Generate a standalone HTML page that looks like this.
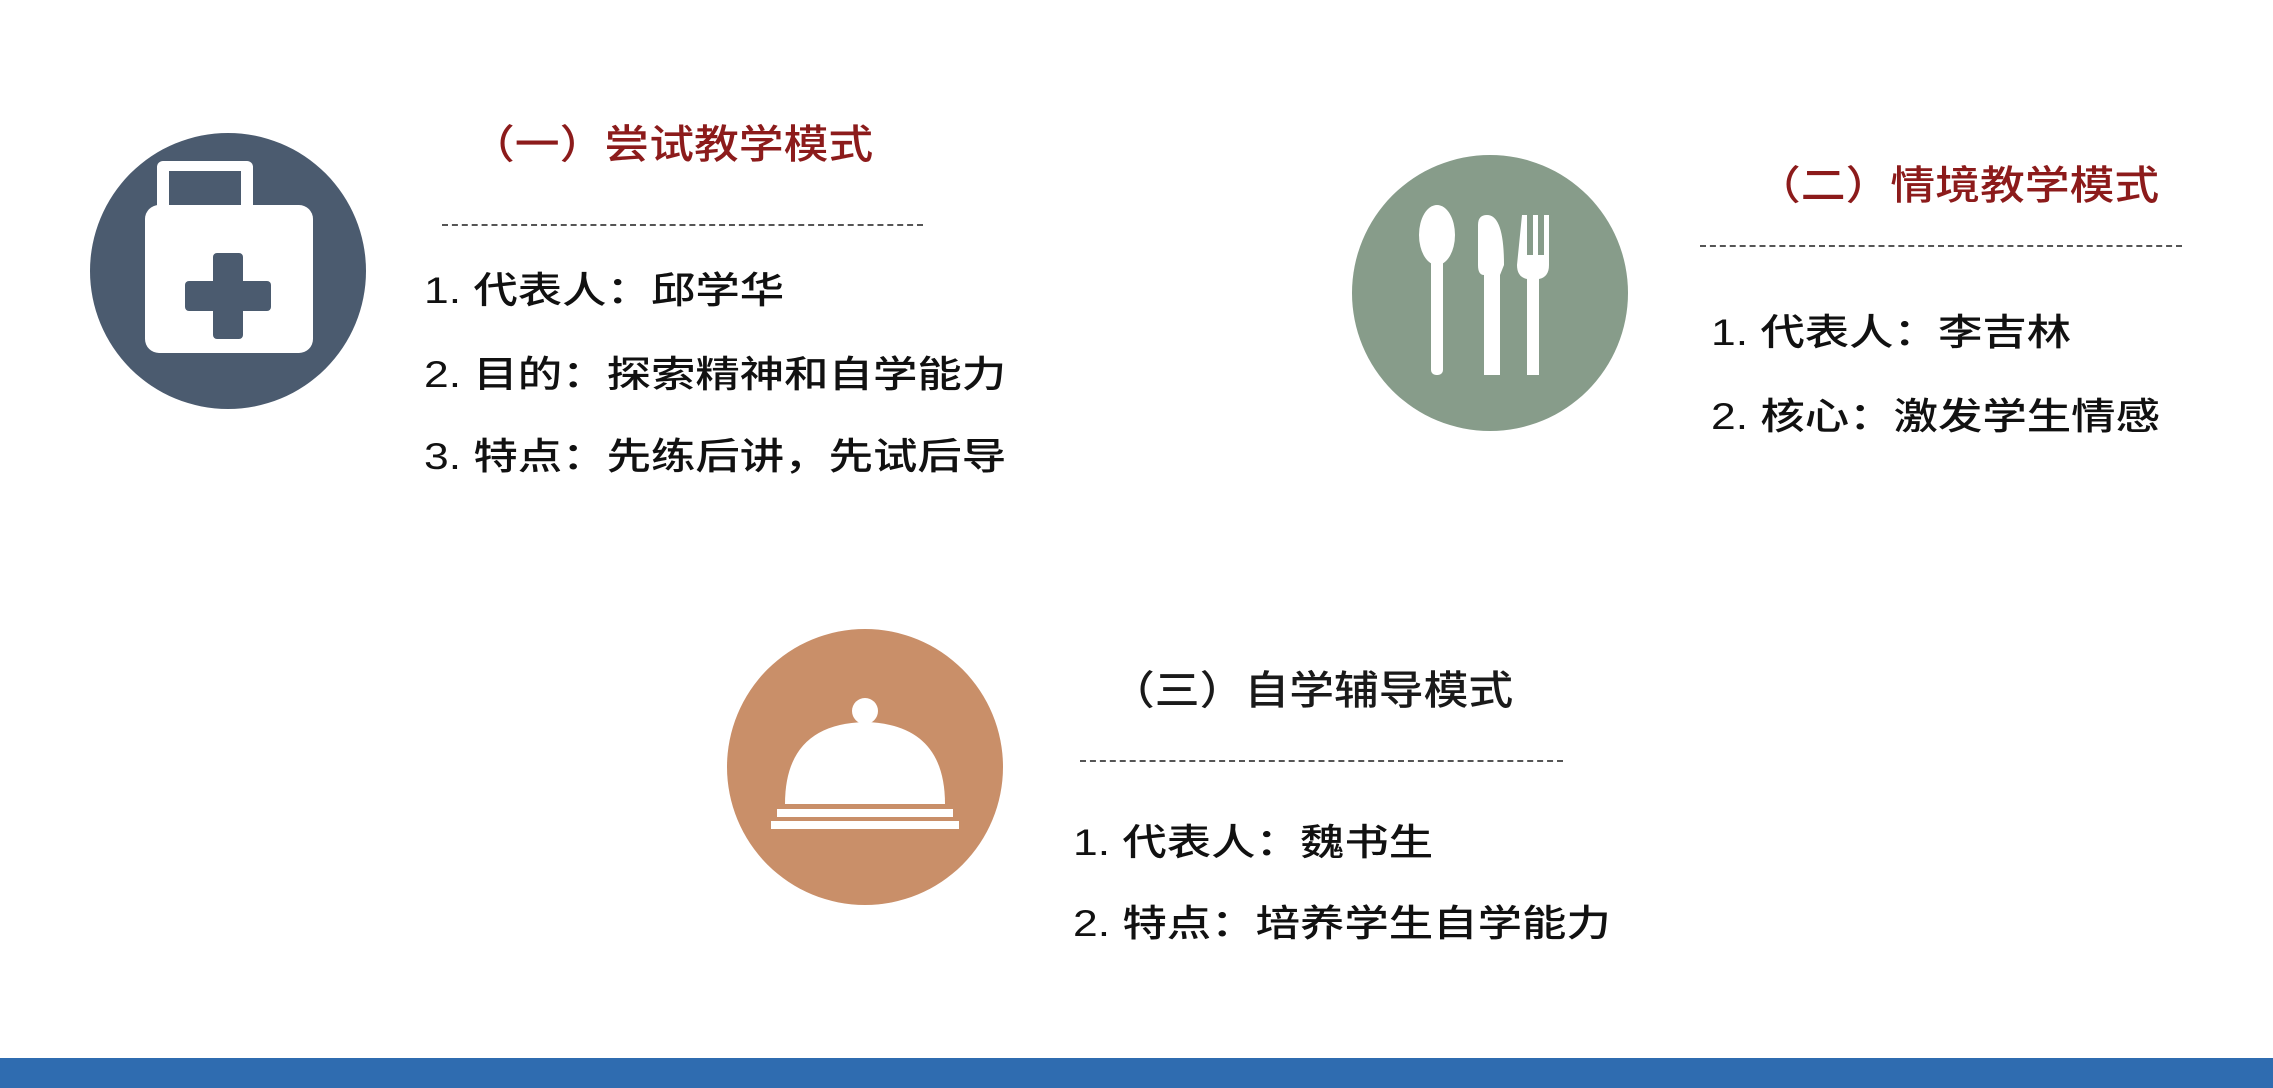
<!DOCTYPE html>
<html><head><meta charset="utf-8"><style>
html,body{margin:0;padding:0}
body{width:2273px;height:1088px;position:relative;background:#fff;overflow:hidden;font-family:"Liberation Sans","Noto Sans CJK SC",sans-serif}
.t{position:absolute;white-space:nowrap;transform-origin:0 50%;line-height:1}
.title{font-size:40px;color:#8c1b1b;transform:scaleX(1.12);font-weight:500}
.body{font-size:37px;color:#111;transform:scaleX(1.2);font-weight:500}
.dash{position:absolute;border-top:2px dashed #555;height:0}
</style></head><body>
<svg style="position:absolute;left:90px;top:133px" width="276" height="276" viewBox="0 0 276 276">
<circle cx="138" cy="138" r="138" fill="#4b5b6f"/>
<rect x="67" y="28" width="96" height="50" rx="6" fill="#fff"/>
<rect x="79" y="38" width="72" height="40" fill="#4b5b6f"/>
<rect x="55" y="72" width="168" height="148" rx="14" fill="#fff"/>
<rect x="123" y="120" width="30" height="86" rx="4" fill="#4b5b6f"/>
<rect x="95" y="148" width="86" height="30" rx="4" fill="#4b5b6f"/>
</svg>
<svg style="position:absolute;left:1352px;top:155px" width="276" height="276" viewBox="0 0 276 276">
<circle cx="138" cy="138" r="138" fill="#879c8a"/>
<ellipse cx="85" cy="80" rx="18" ry="30" fill="#fff"/>
<rect x="79" y="100" width="12" height="120" rx="5" fill="#fff"/>
<path d="M135 60 Q152 60 152 110 L148 120 L148 220 L132 220 L132 120 Q126 120 126 110 L126 70 Q126 60 135 60Z" fill="#fff"/>
<path d="M170 60 h5 v40 h6 v-40 h5 v40 h6 v-40 h5 v50 q0 12 -10 14 v96 h-12 v-96 q-10 -2 -10 -14Z" fill="#fff"/>
</svg>
<svg style="position:absolute;left:727px;top:629px" width="276" height="276" viewBox="0 0 276 276">
<circle cx="138" cy="138" r="138" fill="#c98f69"/>
<circle cx="138" cy="82" r="13" fill="#fff"/>
<path d="M58 175 Q58 95 138 93 Q218 95 218 175Z" fill="#fff"/>
<rect x="50" y="180" width="176" height="8" fill="#fff"/>
<rect x="44" y="192" width="188" height="8" fill="#fff"/>
</svg>

<div class="t title" style="left:470px;top:125px">（一）尝试教学模式</div>
<div class="dash" style="left:442px;top:224px;width:481px"></div>
<div class="t body" style="left:424px;top:272px">1. 代表人：邱学华</div>
<div class="t body" style="left:424px;top:356px">2. 目的：探索精神和自学能力</div>
<div class="t body" style="left:424px;top:438px">3. 特点：先练后讲，先试后导</div>

<div class="t title" style="left:1756px;top:166px">（二）情境教学模式</div>
<div class="dash" style="left:1700px;top:245px;width:482px"></div>
<div class="t body" style="left:1711px;top:314px">1. 代表人：李吉林</div>
<div class="t body" style="left:1711px;top:398px">2. 核心：激发学生情感</div>

<div class="t title" style="left:1110px;top:671px;color:#1a1a1a">（三）自学辅导模式</div>
<div class="dash" style="left:1080px;top:760px;width:483px"></div>
<div class="t body" style="left:1073px;top:824px">1. 代表人：魏书生</div>
<div class="t body" style="left:1073px;top:905px">2. 特点：培养学生自学能力</div>

<div style="position:absolute;left:0;top:1058px;width:2273px;height:30px;background:#2f6cb0"></div>
</body></html>
